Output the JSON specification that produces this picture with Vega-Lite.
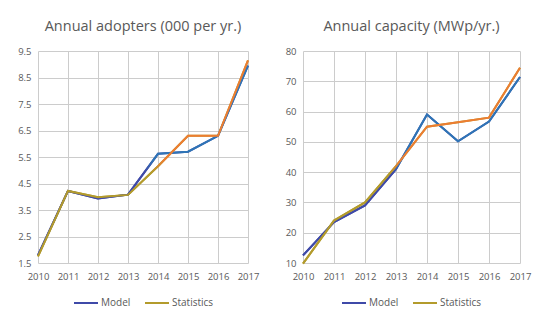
{
  "$schema": "https://vega.github.io/schema/vega-lite/v6.json",
  "padding": {"left": 17, "top": 18, "right": 5, "bottom": 5},
  "background": "white",
  "datasets": {
    "adopters": [
      {"year": 2010, "series": "Model", "value": 1.8},
      {"year": 2011, "series": "Model", "value": 4.22},
      {"year": 2012, "series": "Model", "value": 3.93},
      {"year": 2013, "series": "Model", "value": 4.08},
      {"year": 2014, "series": "Model", "value": 5.62},
      {"year": 2015, "series": "Model", "value": 5.7},
      {"year": 2016, "series": "Model", "value": 6.3},
      {"year": 2017, "series": "Model", "value": 8.95},
      {"year": 2010, "series": "Statistics", "value": 1.75},
      {"year": 2011, "series": "Statistics", "value": 4.22},
      {"year": 2012, "series": "Statistics", "value": 3.98},
      {"year": 2013, "series": "Statistics", "value": 4.07},
      {"year": 2014, "series": "Statistics", "value": 5.15},
      {"year": 2015, "series": "Statistics", "value": 6.3},
      {"year": 2016, "series": "Statistics", "value": 6.3},
      {"year": 2017, "series": "Statistics", "value": 9.15}
    ],
    "capacity": [
      {"year": 2010, "series": "Model", "value": 12.5},
      {"year": 2011, "series": "Model", "value": 23.5},
      {"year": 2012, "series": "Model", "value": 29},
      {"year": 2013, "series": "Model", "value": 41},
      {"year": 2014, "series": "Model", "value": 59},
      {"year": 2015, "series": "Model", "value": 50.2},
      {"year": 2016, "series": "Model", "value": 56.7},
      {"year": 2017, "series": "Model", "value": 71.4},
      {"year": 2010, "series": "Statistics", "value": 9.8},
      {"year": 2011, "series": "Statistics", "value": 24},
      {"year": 2012, "series": "Statistics", "value": 30},
      {"year": 2013, "series": "Statistics", "value": 42},
      {"year": 2014, "series": "Statistics", "value": 55},
      {"year": 2015, "series": "Statistics", "value": 56.5},
      {"year": 2016, "series": "Statistics", "value": 58},
      {"year": 2017, "series": "Statistics", "value": 74.5}
    ]
  },
  "hconcat": [
    {
      "title": {"text": "Annual adopters (000 per yr.)"},
      "width": 210,
      "height": 212,
      "data": {"name": "adopters"},
      "encoding": {
        "x": {"field": "year", "type": "quantitative", "title": null,
              "scale": {"domain": [2010, 2017], "nice": false, "zero": false},
              "axis": {"values": [2010, 2011, 2012, 2013, 2014, 2015, 2016, 2017], "format": "d", "grid": true}},
        "y": {"field": "value", "type": "quantitative", "title": null,
              "scale": {"domain": [1.5, 9.5], "nice": false, "zero": false},
              "axis": {"values": [1.5, 2.5, 3.5, 4.5, 5.5, 6.5, 7.5, 8.5, 9.5], "format": ".1f", "grid": true}}
      },
      "layer": [
        {
          "mark": {"type": "line", "strokeWidth": 2},
          "encoding": {
            "color": {"field": "series", "type": "nominal", "title": null,
                      "scale": {"domain": ["Model", "Statistics"], "range": ["#3f4aa8", "#b39b2c"]}}
          }
        },
        {
          "transform": [{"filter": "datum.series === 'Model'"}],
          "mark": {"type": "line", "strokeWidth": 2,
                   "stroke": {"gradient": "linear", "x1": 0, "y1": 0, "x2": 0, "y2": 1,
                              "stops": [{"offset": 0, "color": "#2e75b6"}, {"offset": 0.5, "color": "#2e75b6"}, {"offset": 0.56, "color": "#3f4aa8"}, {"offset": 1, "color": "#3f4aa8"}]}}
        },
        {
          "transform": [{"filter": "datum.series === 'Statistics'"}],
          "mark": {"type": "line", "strokeWidth": 2,
                   "stroke": {"gradient": "linear", "x1": 0, "y1": 0, "x2": 0, "y2": 1,
                              "stops": [{"offset": 0, "color": "#ed7d31"}, {"offset": 0.51, "color": "#ed7d31"}, {"offset": 0.57, "color": "#b39b2c"}, {"offset": 1, "color": "#b39b2c"}]}}
        }
      ]
    },
    {
      "title": {"text": "Annual capacity (MWp/yr.)"},
      "width": 217,
      "height": 212,
      "data": {"name": "capacity"},
      "encoding": {
        "x": {"field": "year", "type": "quantitative", "title": null,
              "scale": {"domain": [2010, 2017], "nice": false, "zero": false},
              "axis": {"values": [2010, 2011, 2012, 2013, 2014, 2015, 2016, 2017], "format": "d", "grid": true}},
        "y": {"field": "value", "type": "quantitative", "title": null,
              "scale": {"domain": [10, 80], "nice": false, "zero": false},
              "axis": {"values": [10, 20, 30, 40, 50, 60, 70, 80], "format": "d", "grid": true}}
      },
      "layer": [
        {
          "mark": {"type": "line", "strokeWidth": 2},
          "encoding": {
            "color": {"field": "series", "type": "nominal", "title": null,
                      "scale": {"domain": ["Model", "Statistics"], "range": ["#3f4aa8", "#b39b2c"]}}
          }
        },
        {
          "transform": [{"filter": "datum.series === 'Model'"}],
          "mark": {"type": "line", "strokeWidth": 2,
                   "stroke": {"gradient": "linear", "x1": 0, "y1": 0, "x2": 0, "y2": 1,
                              "stops": [{"offset": 0, "color": "#2e75b6"}, {"offset": 0.48, "color": "#2e75b6"}, {"offset": 0.54, "color": "#3f4aa8"}, {"offset": 1, "color": "#3f4aa8"}]}}
        },
        {
          "transform": [{"filter": "datum.series === 'Statistics'"}],
          "mark": {"type": "line", "strokeWidth": 2,
                   "stroke": {"gradient": "linear", "x1": 0, "y1": 0, "x2": 0, "y2": 1,
                              "stops": [{"offset": 0, "color": "#ed7d31"}, {"offset": 0.48, "color": "#ed7d31"}, {"offset": 0.54, "color": "#b39b2c"}, {"offset": 1, "color": "#b39b2c"}]}}
        }
      ]
    }
  ],
  "spacing": 26,
  "resolve": {"legend": {"color": "independent"}, "scale": {"color": "independent"}},
  "config": {
    "font": "Open Sans",
    "view": {"stroke": null},
    "title": {"fontSize": 14.5, "fontWeight": "normal", "color": "#595959", "font": "Open Sans", "offset": 12, "anchor": "middle"},
    "axis": {"domain": false, "ticks": false, "grid": true, "gridColor": "#cccccc", "gridWidth": 1, "gridOpacity": 1,
             "labelColor": "#595959", "labelFontSize": 9.5, "labelFont": "Open Sans", "labelPadding": 7,
             "labelOverlap": false, "labelBound": false, "labelFlush": false},
    "axisX": {"labelPadding": 8, "grid": true},
    "legend": {"orient": "bottom", "direction": "horizontal", "labelColor": "#595959", "labelFontSize": 10, "labelFont": "Open Sans",
               "symbolType": "stroke", "symbolSize": 576, "symbolStrokeWidth": 2, "labelOffset": 2, "columnPadding": 10, "offset": 9,
               "layout": {"bottom": {"anchor": "middle"}}}
  }
}
